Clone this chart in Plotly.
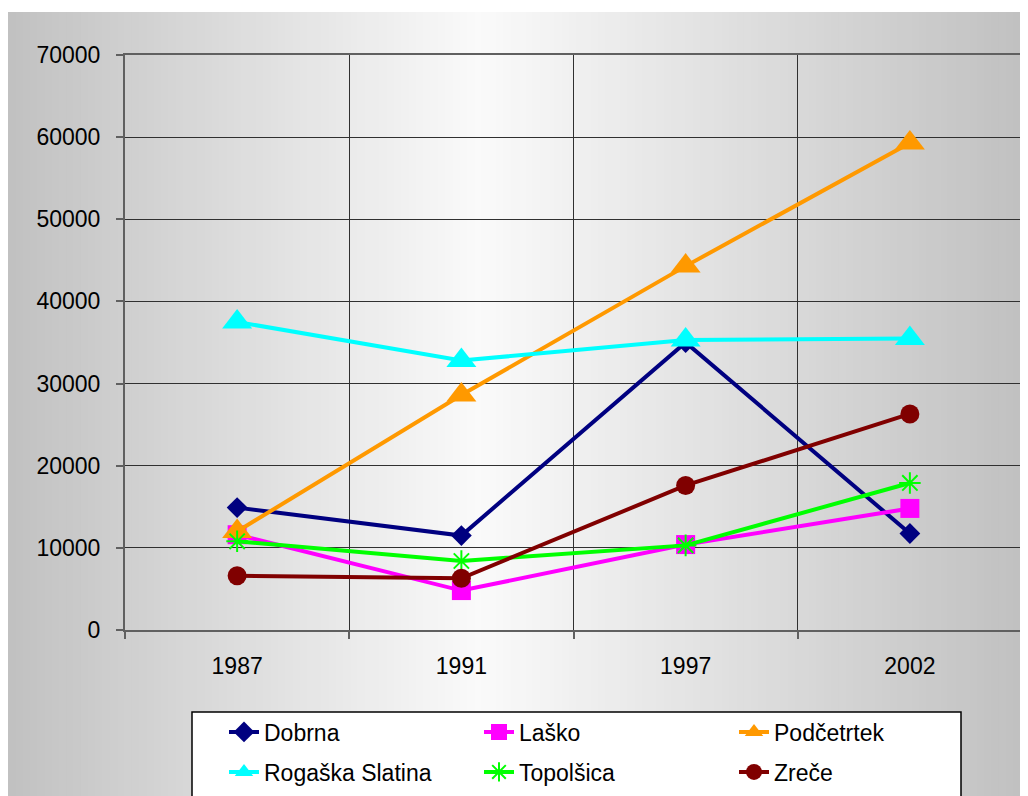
import plotly.graph_objects as go

years = ["1987", "1991", "1997", "2002"]
dobrna = [14900, 11500, 35000, 11750]
lasko = [11600, 4800, 10400, 14800]
podcetrtek = [12000, 28600, 44300, 59300]
rogaska = [37500, 32800, 35300, 35500]
topolsica = [10800, 8400, 10300, 17900]
zrece = [6600, 6300, 17600, 26300]

FONT = "Liberation Sans, Arial, sans-serif"
OFF = 8  # page body margin
W, H = 1028 - OFF, 796 - OFF
# plot area in window coordinates
WL, WR, WT, WB = 125, 1022, 55, 630
L, R, T, B = WL - OFF, WR - OFF, WT - OFF, WB - OFF


def px(wx):
    return (wx - WL) / (WR - WL)


def py(wy):
    return (WB - wy) / (WB - WT)


fig = go.Figure()

series = [
    ("Dobrna", dobrna, "#000080", dict(symbol="diamond", size=16), "legend"),
    ("Laško", lasko, "#FF00FF", dict(symbol="square", size=19), "legend"),
    ("Podčetrtek", podcetrtek, "#FF9900", dict(symbol="triangle-up", size=26), "legend"),
    ("Rogaška Slatina", rogaska, "#00FFFF", dict(symbol="triangle-up", size=26), "legend2"),
    ("Topolšica", topolsica, "#00FF00", dict(symbol="asterisk-open", size=18), "legend2"),
    ("Zreče", zrece, "#800000", dict(symbol="circle", size=19), "legend2"),
]

for name, vals, col, mk, lg in series:
    marker = dict(color=col, **mk)
    if mk["symbol"] == "asterisk-open":
        marker["line"] = dict(color=col, width=2)
    else:
        marker["line"] = dict(width=0)
    fig.add_trace(go.Scatter(
        x=years, y=vals, name=name, mode="lines+markers",
        line=dict(color=col, width=4), marker=marker, legend=lg,
    ))

# gradient background (stripes), window coordinates
shapes = []
x0, xw, x1 = 8, 480, 1028
N = 140
for i in range(N):
    a = x0 + (x1 - x0) * i / N
    b = x0 + (x1 - x0) * (i + 1) / N
    m = (a + b) / 2
    if m <= xw:
        v = 193 + (250 - 193) * (m - x0) / (xw - x0)
    else:
        v = 250 - (250 - 192) * (m - xw) / (x1 - xw)
    v = int(round(v))
    c = f"rgb({v},{v},{v})"
    shapes.append(dict(type="rect", xref="paper", yref="paper",
                       x0=px(a), x1=px(b + 0.8), y0=py(805), y1=py(12),
                       fillcolor=c, line=dict(width=0), layer="below"))
# legend box
shapes.append(dict(type="rect", xref="paper", yref="paper",
                   x0=px(192), x1=px(961), y0=py(810), y1=py(712),
                   fillcolor="white", line=dict(color="black", width=1.5), layer="below"))

legend_common = dict(orientation="h", x=px(224), xanchor="left", yanchor="middle",
                     bgcolor="rgba(0,0,0,0)", borderwidth=0, entrywidth=210,
                     entrywidthmode="pixels", font=dict(family=FONT, size=23, color="black"))

fig.update_layout(
    width=W, height=H,
    margin=dict(l=L, r=W - R, t=T, b=H - B, autoexpand=False),
    paper_bgcolor="white",
    plot_bgcolor="rgba(0,0,0,0)",
    font=dict(family=FONT, size=23, color="black"),
    shapes=shapes,
    legend=dict(y=py(732), **legend_common),
    legend2=dict(y=py(772), **legend_common),
)

fig.update_xaxes(
    type="category", range=[-0.5, 3.5], tickson="boundaries",
    showgrid=True, gridcolor="#303030", gridwidth=1,
    ticks="outside", ticklen=7, tickwidth=2, tickcolor="#606060",
    showline=True, linecolor="#606060", linewidth=2, mirror=True,
    tickfont=dict(family=FONT, size=23, color="black"), ticklabelstandoff=14,
    zeroline=False,
)
fig.update_yaxes(
    range=[0, 70000], dtick=10000, showgrid=True, gridcolor="#303030", gridwidth=1,
    ticks="outside", ticklen=7, tickwidth=2, tickcolor="#606060",
    showline=True, linecolor="#606060", linewidth=2, mirror=True,
    tickfont=dict(family=FONT, size=23, color="black"), ticklabelstandoff=11,
    zeroline=False, tickformat="d",
)

fig.write_html("out.html")
